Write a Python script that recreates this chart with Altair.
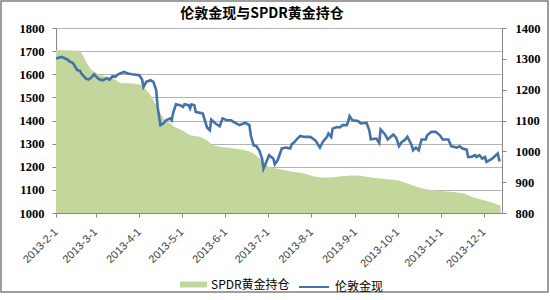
import altair as alt
import pandas as pd

# London gold spot (left axis) – days after 2013-02-01 and price
gold_day = [0, 4, 8, 10, 12, 13, 15, 17, 18, 21, 23, 25, 27, 29, 31, 33, 36, 38, 40, 42,
            44, 48, 51, 54, 59, 61, 62, 64, 67, 69, 71, 72, 74, 76, 78, 81, 82, 83, 85, 88,
            90, 91, 94, 95, 96, 98, 99, 102, 104, 107, 109, 110, 113, 116, 118, 121, 124, 127, 130, 134,
            137, 138, 140, 142, 144, 146, 147, 149, 151, 154, 155, 157, 160, 163, 166, 167, 169, 171, 173, 176,
            180, 182, 184, 187, 189, 192, 193, 195, 196, 199, 201, 203, 206, 207, 208, 210, 214, 216, 220, 222,
            223, 227, 229, 230, 233, 235, 239, 241, 243, 245, 247, 249, 252, 253, 255, 257, 259, 262, 263, 266,
            269, 272, 274, 278, 280, 284, 286, 288, 291, 292, 294, 297, 298, 300, 302, 304, 305, 307, 309, 313,
            314, 315]
gold_price = [1668, 1675, 1664, 1654, 1649, 1639, 1618, 1615, 1603, 1582, 1577, 1586, 1600, 1586, 1577, 1574, 1582, 1577, 1592, 1589,
              1600, 1610, 1603, 1600, 1596, 1577, 1545, 1567, 1574, 1567, 1531, 1459, 1380, 1387, 1401, 1409, 1401, 1433, 1470, 1466,
              1459, 1470, 1466, 1452, 1470, 1466, 1437, 1433, 1430, 1370, 1358, 1404, 1387, 1375, 1409, 1401, 1401, 1390, 1380, 1390,
              1380, 1336, 1293, 1289, 1271, 1235, 1192, 1221, 1250, 1235, 1211, 1228, 1279, 1283, 1279, 1297, 1307, 1322, 1333, 1329,
              1329, 1322, 1312, 1283, 1307, 1329, 1344, 1329, 1365, 1372, 1370, 1380, 1380, 1394, 1419, 1401, 1398, 1387, 1390, 1358,
              1319, 1322, 1303, 1361, 1341, 1318, 1339, 1326, 1289, 1307, 1315, 1329, 1293, 1271, 1283, 1271, 1318, 1318, 1336, 1351,
              1351, 1336, 1318, 1318, 1289, 1283, 1289, 1279, 1274, 1242, 1242, 1250, 1242, 1250, 1235, 1242, 1221, 1228, 1235, 1257,
              1228, 1228]

# SPDR gold holdings in tonnes (right axis)
spdr_day = [0, 17, 19, 22, 25, 29, 32, 37, 42, 44, 46, 55, 61, 64, 67, 69, 71, 74, 77, 81,
            84, 89, 95, 102, 107, 111, 117, 124, 131, 136, 140, 143, 146, 148, 151, 156, 162, 169, 176, 182,
            188, 195, 202, 209, 216, 223, 233, 242, 249, 256, 263, 273, 282, 289, 295, 301, 308, 314, 315]
spdr_tonnes = [1329, 1326, 1312, 1285, 1264, 1253, 1247, 1242, 1233, 1226, 1222, 1220, 1215, 1199, 1182, 1166, 1150, 1123, 1101, 1090,
               1079, 1069, 1052, 1047, 1036, 1020, 1014, 1011, 1006, 1001, 993, 982, 971, 960, 949, 944, 939, 933, 928, 919,
               915, 915, 919, 922, 921, 915, 910, 906, 896, 884, 876, 871, 868, 863, 852, 844, 836, 825, 824]

month_ticks = [(2013, m) for m in range(2, 13)]
left_ticks = [1000, 1100, 1200, 1300, 1400, 1500, 1600, 1700, 1800]
right_ticks = [800, 900, 1000, 1100, 1200, 1300, 1400]

title_text = "伦敦金现与SPDR黄金持仓"
gold_name = "伦敦金现"
spdr_name = "SPDR黄金持仓"

base = pd.Timestamp("2013-02-01")


def to_dates(days):
    return [(base + pd.Timedelta(days=d)).strftime("%Y-%m-%d") for d in days]


gold_df = pd.DataFrame({"date": to_dates(gold_day), "value": gold_price, "series": gold_name})
spdr_df = pd.DataFrame({"date": to_dates(spdr_day), "value": spdr_tonnes, "series": spdr_name})

GREEN = "#c3d69b"
BLUE = "#4472a8"
AXIS_GRAY = "#868686"

x_enc = alt.X(
    "date:T",
    scale=alt.Scale(type="utc",
                    domain=[alt.DateTime(year=2013, month=2, date=1, utc=True),
                            alt.DateTime(year=2013, month=12, date=14, utc=True)]),
    axis=alt.Axis(
        values=[alt.DateTime(year=y, month=m, date=1, utc=True) for y, m in month_ticks],
        format="%Y-%-m-%-d",
        labelAngle=315,
        labelAlign="right",
        labelBaseline="middle",
        labelPadding=13,
        labelFont="Liberation Sans",
        labelFontSize=11,
        labelColor="#404040",
        tickSize=4,
        tickColor=AXIS_GRAY,
        domainColor=AXIS_GRAY,
        grid=False,
        title=None,
        labelOverlap=False,
    ),
)

area = alt.Chart(spdr_df).mark_area(opacity=1).encode(
    x=x_enc,
    y=alt.Y(
        "value:Q",
        scale=alt.Scale(domain=[800, 1400], nice=False, zero=False),
        axis=alt.Axis(orient="right", values=right_ticks, grid=False, title=None, format="d",
                      labelFont="Liberation Serif", labelFontWeight="bold", labelFontSize=12.5,
                      labelColor="#000000", labelPadding=9, tickSize=4,
                      tickColor=AXIS_GRAY, domainColor=AXIS_GRAY),
    ),
    y2=alt.datum(800),
    fill=alt.Fill(
        "series:N",
        scale=alt.Scale(domain=[spdr_name], range=[GREEN]),
        legend=alt.Legend(orient="none", legendX=124, legendY=243, title=None,
                          symbolType="M-1,-0.22H1V0.22H-1Z", symbolSize=729,
                          symbolStrokeWidth=0, labelFont="Noto Sans CJK SC",
                          labelFontSize=12, labelColor="#000000", labelOffset=4),
    ),
)

line = alt.Chart(gold_df).mark_line(strokeWidth=2.6).encode(
    x=x_enc,
    y=alt.Y(
        "value:Q",
        scale=alt.Scale(domain=[1000, 1800], nice=False, zero=False),
        axis=alt.Axis(orient="left", values=left_ticks, grid=True, gridColor="#b3b3b3",
                      gridWidth=1, title=None, format="d",
                      labelFont="Liberation Serif", labelFontWeight="bold", labelFontSize=12.5,
                      labelColor="#000000", labelPadding=8, tickSize=4,
                      tickColor=AXIS_GRAY, domainColor=AXIS_GRAY),
    ),
    stroke=alt.Stroke(
        "series:N",
        scale=alt.Scale(domain=[gold_name], range=[BLUE]),
        legend=alt.Legend(orient="none", legendX=242, legendY=243, title=None,
                          symbolType="stroke", symbolSize=900, symbolStrokeWidth=2,
                          labelFont="Noto Sans CJK SC", labelFontSize=12,
                          labelColor="#000000", labelOffset=5),
    ),
)

frame = alt.Chart(pd.DataFrame({"f": [0]})).mark_rect(
    fillOpacity=0, stroke="#7f7f7f", strokeWidth=1.5
).encode(x=alt.value(-55), x2=alt.value(492), y=alt.value(-27), y2=alt.value(264))

chart = alt.layer(area, line, frame).resolve_scale(
    y="independent"
).properties(
    width=446,
    height=185,
    autosize=alt.AutoSizeParams(type="none"),
    padding={"left": 56, "top": 28, "right": 48, "bottom": 87},
    title=alt.TitleParams(title_text, font="Noto Sans CJK SC", fontSize=14, fontWeight="bold",
                          color="#000000", anchor="middle", frame="group", offset=6, dx=-17, dy=27),
).configure_view(stroke=None).configure(background="white")

chart.save("out.html", embed_options={"renderer": "svg", "actions": False})
